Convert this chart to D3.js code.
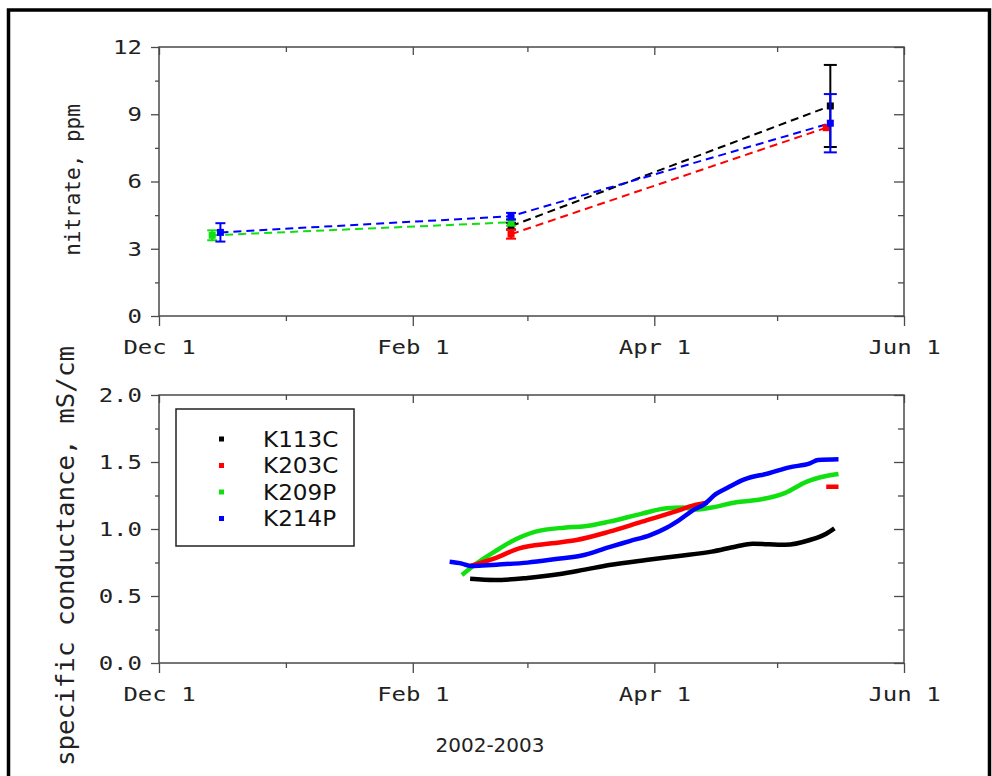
<!DOCTYPE html>
<html>
<head>
<meta charset="utf-8">
<script src="https://cdn.jsdelivr.net/npm/d3@7"></script>
<style>
  html, body { margin: 0; padding: 0; background: #fff; }
  svg { display: block; }
</style>
</head>
<body>
<svg id="chart" width="992" height="776"></svg>
<script>
// ---- data -------------------------------------------------------------
const wells = ["K113C", "K203C", "K209P", "K214P"];
const wellColors = ["#000000", "#ff0000", "#10e010", "#0000ff"];

// Nitrate samples: date, value (ppm), half-width of error bar
const nitrateK113C = [
  ["2003-02-25", 4.01, 0.15],
  ["2003-05-14", 9.37, 1.83]
];
const nitrateK203C = [
  ["2003-02-25", 3.65, 0.2],
  ["2003-05-13", 8.4, 0]
];
const nitrateK209P = [
  ["2002-12-14", 3.6, 0.22],
  ["2003-02-25", 4.18, 0.15]
];
const nitrateK214P = [
  ["2002-12-16", 3.73, 0.41],
  ["2003-02-25", 4.45, 0.15],
  ["2003-05-14", 8.6, 1.3]
];

// Continuous specific conductance records (mS/cm); null marks a gap
const condK113C = [
  ["2003-02-15", 0.628], ["2003-02-21", 0.619], ["2003-03-01", 0.635],
  ["2003-03-09", 0.664], ["2003-03-15", 0.697], ["2003-03-21", 0.731],
  ["2003-03-30", 0.769], ["2003-04-07", 0.799], ["2003-04-15", 0.831],
  ["2003-04-21", 0.870], ["2003-04-25", 0.890], ["2003-05-03", 0.882],
  ["2003-05-09", 0.918], ["2003-05-13", 0.965], ["2003-05-15", 1.005]
];
const condK203C = [
  ["2003-02-15", 0.724], ["2003-02-21", 0.781], ["2003-02-27", 0.856],
  ["2003-03-07", 0.893], ["2003-03-13", 0.918], ["2003-03-21", 0.980],
  ["2003-03-29", 1.055], ["2003-04-06", 1.129], ["2003-04-11", 1.180],
  ["2003-04-14", 1.196], ["2003-04-15", null],
  ["2003-05-13", 1.316], ["2003-05-16", 1.316]
];
const condK209P = [
  ["2003-02-13", 0.657], ["2003-02-16", 0.730], ["2003-02-21", 0.831],
  ["2003-02-25", 0.905], ["2003-03-03", 0.980], ["2003-03-10", 1.010],
  ["2003-03-15", 1.020], ["2003-03-21", 1.055], ["2003-03-29", 1.115],
  ["2003-04-04", 1.155], ["2003-04-08", 1.160], ["2003-04-11", 1.145],
  ["2003-04-15", 1.160], ["2003-04-21", 1.200], ["2003-04-26", 1.216],
  ["2003-05-03", 1.270], ["2003-05-08", 1.350], ["2003-05-13", 1.395],
  ["2003-05-16", 1.410]
];
const condK214P = [
  ["2003-02-10", 0.756], ["2003-02-13", 0.742], ["2003-02-15", 0.724],
  ["2003-02-18", 0.728], ["2003-02-22", 0.735], ["2003-03-01", 0.749],
  ["2003-03-09", 0.780], ["2003-03-14", 0.800], ["2003-03-21", 0.865],
  ["2003-03-26", 0.910], ["2003-03-31", 0.955], ["2003-04-04", 1.010],
  ["2003-04-07", 1.065], ["2003-04-11", 1.150], ["2003-04-13", 1.180],
  ["2003-04-16", 1.260], ["2003-04-19", 1.310], ["2003-04-23", 1.370],
  ["2003-04-29", 1.416], ["2003-05-04", 1.460], ["2003-05-09", 1.490],
  ["2003-05-11", 1.515], ["2003-05-16", 1.520]
];

const xDomain = ["2002-12-01", "2003-06-01"];
const xMajorTicks = ["2002-12-01", "2003-02-01", "2003-04-01", "2003-06-01"];
const xMinorTicks = ["2003-01-01", "2003-03-01", "2003-05-01"];
const nitrateTicks = [0, 3, 6, 9, 12];
const nitrateMinor = [1.5, 4.5, 7.5, 10.5];
const condTicks = [0, 0.5, 1.0, 1.5, 2.0];
const condMinor = [0.25, 0.75, 1.25, 1.75];

// ---- drawing ------------------------------------------------------------
const parse = d3.utcParse("%Y-%m-%d");
const svg = d3.select("#chart");
const MONO = "'DejaVu Sans Mono', monospace";
const SANS = "'DejaVu Sans', sans-serif";
const frameColor = "#4a4a4a";

// widen glyphs horizontally (keeps their height)
function widen(sel, factor) {
  sel.each(function () {
    const len = this.getComputedTextLength();
    if (len > 0) {
      d3.select(this).attr("textLength", len * factor).attr("lengthAdjust", "spacingAndGlyphs");
    }
  });
}

// outer border
svg.append("rect")
  .attr("x", 8.5).attr("y", 10).attr("width", 981).attr("height", 800)
  .attr("fill", "none").attr("stroke", "#000").attr("stroke-width", 3.5);

const x = d3.scaleUtc().domain(xDomain.map(parse)).range([159, 904]);
const yTop = d3.scaleLinear().domain([0, 12]).range([316, 47]);
const yBot = d3.scaleLinear().domain([0, 2]).range([663, 395]);

function panel(y, majorY, minorY, fmt) {
  const [x0, x1] = x.range();
  const [yb, yt] = y.range();
  const g = svg.append("g");

  const style = sel => {
    sel.select(".domain").remove();
    sel.selectAll("line").attr("stroke", frameColor).attr("stroke-width", 1.3);
    sel.selectAll("text").attr("font-family", MONO).attr("font-size", 20).attr("fill", "#222");
  };

  // bottom: labelled ticks pointing out
  g.append("g").attr("transform", `translate(0,${yb})`)
    .call(d3.axisBottom(x).tickValues(xMajorTicks.map(parse)).tickSize(10).tickPadding(14)
      .tickFormat(d3.utcFormat("%b %-d"))).call(style)
    .selectAll("text").call(widen, 1.2);
  g.append("g").attr("transform", `translate(0,${yb})`)
    .call(d3.axisBottom(x).tickValues(xMinorTicks.map(parse)).tickSize(5).tickFormat("")).call(style);
  // top: ticks pointing in
  g.append("g").attr("transform", `translate(0,${yt})`)
    .call(d3.axisBottom(x).tickValues(xMajorTicks.map(parse)).tickSize(8).tickFormat("")).call(style);
  g.append("g").attr("transform", `translate(0,${yt})`)
    .call(d3.axisBottom(x).tickValues(xMinorTicks.map(parse)).tickSize(5).tickFormat("")).call(style);
  // left: labelled ticks pointing out
  g.append("g").attr("transform", `translate(${x0},0)`)
    .call(d3.axisLeft(y).tickValues(majorY).tickSize(8).tickPadding(9).tickFormat(fmt)).call(style)
    .selectAll("text").call(widen, 1.2);
  g.append("g").attr("transform", `translate(${x0},0)`)
    .call(d3.axisLeft(y).tickValues(minorY).tickSize(4).tickFormat("")).call(style);
  // right: ticks pointing in
  g.append("g").attr("transform", `translate(${x1},0)`)
    .call(d3.axisLeft(y).tickValues(majorY).tickSize(10).tickFormat("")).call(style);
  g.append("g").attr("transform", `translate(${x1},0)`)
    .call(d3.axisLeft(y).tickValues(minorY).tickSize(6).tickFormat("")).call(style);

  g.append("rect")
    .attr("x", x0).attr("y", yt).attr("width", x1 - x0).attr("height", yb - yt)
    .attr("fill", "none").attr("stroke", frameColor).attr("stroke-width", 1.5);
  return g;
}

panel(yTop, nitrateTicks, nitrateMinor, d3.format("d"));
panel(yBot, condTicks, condMinor, d3.format(".1f"));

// ---- nitrate panel marks ----
const nitrateSets = [nitrateK113C, nitrateK203C, nitrateK209P, nitrateK214P];
const dashLine = d3.line().x(d => x(parse(d[0]))).y(d => yTop(d[1]));
const gN = svg.append("g");
nitrateSets.forEach((set, i) => {
  const c = wellColors[i];
  gN.append("path").datum(set).attr("d", dashLine)
    .attr("fill", "none").attr("stroke", c).attr("stroke-width", 2)
    .attr("stroke-dasharray", "8,5");
});
nitrateSets.forEach((set, i) => {
  const c = wellColors[i];
  set.forEach(d => {
    const cx = x(parse(d[0]));
    const cy = yTop(d[1]);
    if (d[2] > 0) {
      const top = yTop(d[1] + d[2]), bot = yTop(d[1] - d[2]);
      const hw = d[2] > 0.5 ? 6.5 : 5;
      gN.append("line").attr("x1", cx).attr("x2", cx).attr("y1", top).attr("y2", bot)
        .attr("stroke", c).attr("stroke-width", 2);
      [top, bot].forEach(yy => gN.append("line")
        .attr("x1", cx - hw).attr("x2", cx + hw).attr("y1", yy).attr("y2", yy)
        .attr("stroke", c).attr("stroke-width", 2));
    }
    gN.append("rect").attr("x", cx - 3.5).attr("y", cy - 3.5)
      .attr("width", 7).attr("height", 7).attr("fill", c);
  });
});

// ---- conductance panel marks ----
const condSets = [condK113C, condK203C, condK209P, condK214P];
const condLine = d3.line()
  .defined(d => d[1] !== null)
  .x(d => x(parse(d[0]))).y(d => yBot(d[1]))
  .curve(d3.curveMonotoneX);
const gC = svg.append("g");
[2, 1, 3, 0].forEach(i => {
  gC.append("path").datum(condSets[i]).attr("d", condLine)
    .attr("fill", "none").attr("stroke", wellColors[i]).attr("stroke-width", 4.5)
    .attr("stroke-linejoin", "round");
});

// legend
const lg = svg.append("g");
lg.append("rect").attr("x", 176).attr("y", 409).attr("width", 178).attr("height", 137)
  .attr("fill", "#fff").attr("stroke", "#222").attr("stroke-width", 1.5);
wells.forEach((w, i) => {
  const yy = 439 + i * 26.5;
  lg.append("rect").attr("x", 219).attr("y", yy - 2.5).attr("width", 5).attr("height", 5)
    .attr("fill", wellColors[i]);
  lg.append("text").attr("x", 263).attr("y", yy + 7.5).text(w)
    .attr("font-family", SANS).attr("font-size", 21).attr("fill", "#111")
    .call(widen, 1.1);
});

// axis titles
svg.append("text")
  .attr("transform", "translate(80,180) rotate(-90)")
  .attr("text-anchor", "middle")
  .attr("font-family", MONO).attr("font-size", 21).attr("fill", "#222")
  .text("nitrate, ppm");
svg.append("text")
  .attr("transform", "translate(74,556) rotate(-90)")
  .attr("text-anchor", "middle")
  .attr("font-family", MONO).attr("font-size", 24).attr("fill", "#222")
  .attr("textLength", 420).attr("lengthAdjust", "spacingAndGlyphs")
  .text("specific conductance, mS/cm");
svg.append("text")
  .attr("x", 490).attr("y", 752)
  .attr("text-anchor", "middle")
  .attr("font-family", SANS).attr("font-size", 20).attr("fill", "#222")
  .text("2002-2003");
</script>
</body>
</html>
